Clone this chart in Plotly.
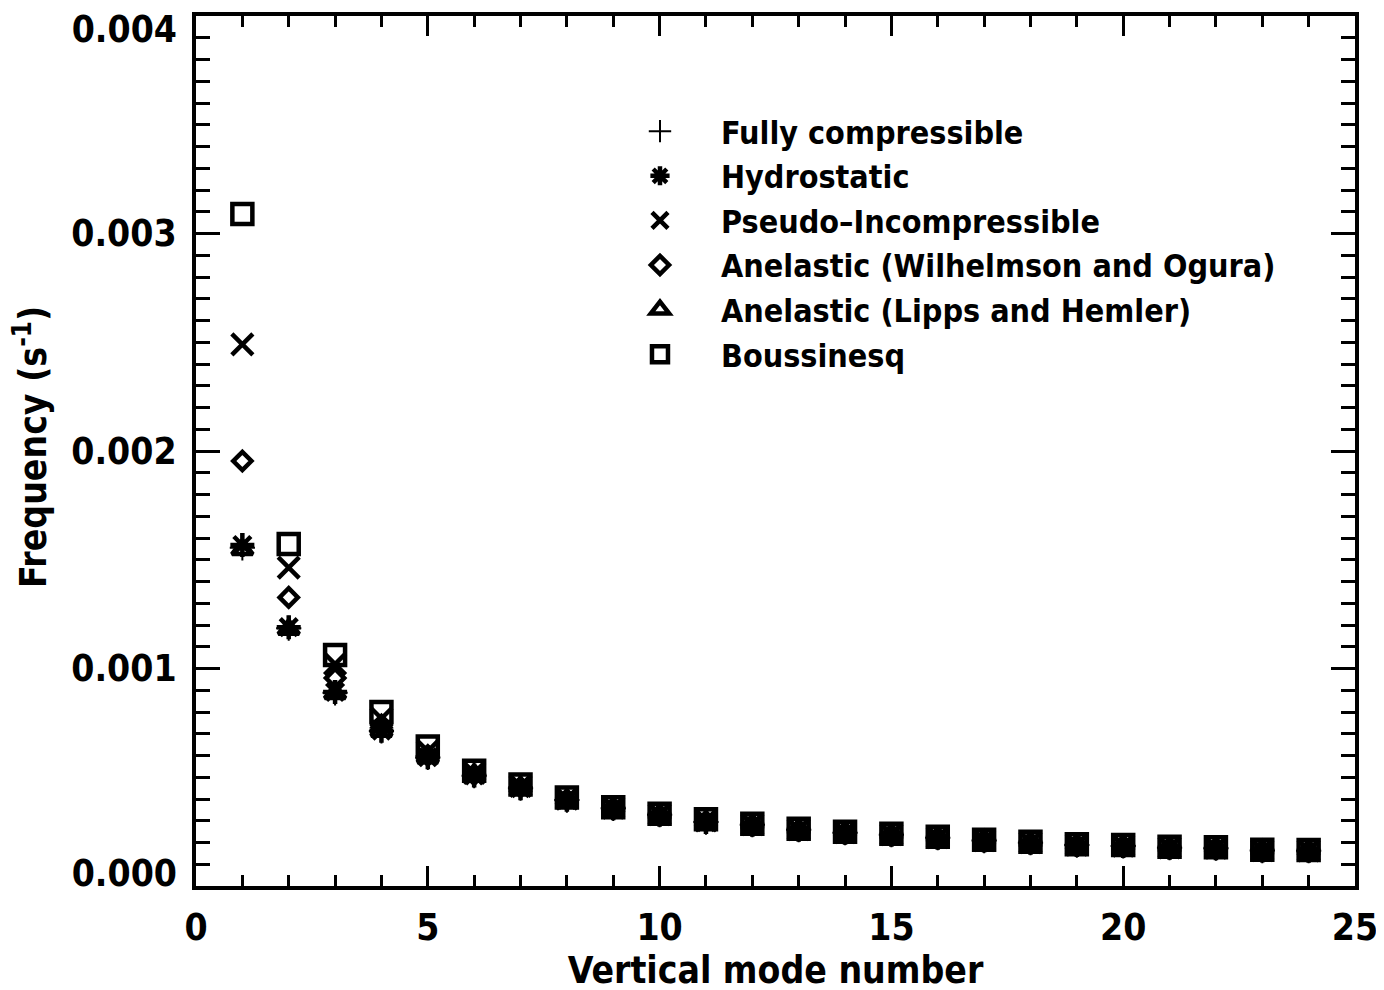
import plotly.graph_objects as go

modes = list(range(1, 25))

fully_compressible = [0.001555, 0.001185, 0.000888, 0.000713, 0.000591, 0.000507, 0.000450, 0.000395,
                      0.000357, 0.000328, 0.000294, 0.000282, 0.000259, 0.000245, 0.000236, 0.000222,
                      0.000209, 0.000199, 0.000188, 0.000184, 0.000176, 0.000174, 0.000163, 0.000162]
hydrostatic = [0.001568, 0.001190, 0.000892, 0.000714, 0.000592, 0.000508, 0.000450, 0.000396,
               0.000357, 0.000328, 0.000294, 0.000282, 0.000259, 0.000245, 0.000236, 0.000222,
               0.000209, 0.000199, 0.000188, 0.000184, 0.000176, 0.000174, 0.000163, 0.000162]
pseudo_incompressible = [0.002490, 0.001464, 0.001020, 0.000770, 0.000620, 0.000520, 0.000460, 0.000402,
                         0.000360, 0.000330, 0.000302, 0.000284, 0.000261, 0.000247, 0.000238, 0.000224,
                         0.000211, 0.000201, 0.000190, 0.000186, 0.000178, 0.000176, 0.000165, 0.000164]
anelastic_wo = [0.001954, 0.001327, 0.000956, 0.000740, 0.000600, 0.000512, 0.000455, 0.000398,
                0.000358, 0.000328, 0.000298, 0.000282, 0.000259, 0.000246, 0.000237, 0.000223,
                0.000210, 0.000200, 0.000189, 0.000185, 0.000177, 0.000175, 0.000164, 0.000163]
anelastic_lh = [0.001547, 0.001180, 0.000885, 0.000712, 0.000590, 0.000506, 0.000450, 0.000395,
                0.000357, 0.000328, 0.000294, 0.000282, 0.000259, 0.000245, 0.000236, 0.000222,
                0.000209, 0.000199, 0.000188, 0.000184, 0.000176, 0.000174, 0.000163, 0.000162]
boussinesq = [0.003090, 0.001572, 0.001062, 0.000800, 0.000641, 0.000530, 0.000467, 0.000407,
              0.000362, 0.000332, 0.000307, 0.000286, 0.000263, 0.000249, 0.000240, 0.000226,
              0.000213, 0.000203, 0.000192, 0.000188, 0.000180, 0.000178, 0.000167, 0.000166]

series_names = ["Fully compressible", "Hydrostatic", "Pseudo\u2013Incompressible",
                "Anelastic (Wilhelmson and Ogura)", "Anelastic (Lipps and Hemler)", "Boussinesq"]
series_values = [fully_compressible, hydrostatic, pseudo_incompressible,
                 anelastic_wo, anelastic_lh, boussinesq]

y_tick_vals = [0.000, 0.001, 0.002, 0.003, 0.004]
y_tick_labels = ["0.000", "0.001", "0.002", "0.003", "0.004"]

x_title = "Vertical mode number"
y_title = "Frequency (s<sup>-1</sup>)"

styles = [
    dict(symbol="cross-thin-open", size=18, line=dict(width=2, color="black")),
    dict(symbol="asterisk-open", size=20, line=dict(width=4.5, color="black")),
    dict(symbol="x-thin-open", size=21, line=dict(width=4.5, color="black")),
    dict(symbol="diamond-open", size=14, line=dict(width=4.5, color="black")),
    dict(symbol="triangle-up-open", size=18, line=dict(width=4.5, color="black")),
    dict(symbol="square-open", size=20, line=dict(width=4.5, color="black")),
]
# all axes share one range; two overlaid y axes only carry the end labels
trace_axes = ["y2", "y3", "y", "y", "y", "y"]

FONT = "DejaVu Sans Condensed, DejaVu Sans"
tick_font = dict(family=FONT, size=37, color="black", weight="bold")

fig = go.Figure()
for i, (name, vals, st, ax) in enumerate(zip(series_names, series_values, styles, trace_axes)):
    fig.add_trace(go.Scatter(x=modes, y=vals, mode="markers", name=name, yaxis=ax,
                             legendgroup="g%d" % i, legendrank=i + 1,
                             marker=dict(color="black", **st)))

Y_RANGE = [0, 0.0040001]

axis_common = dict(
    showline=True, linecolor="black", linewidth=4, mirror="ticks",
    ticks="inside", tickcolor="black", tickwidth=3,
    showgrid=False, zeroline=False, automargin=False,
    ticklabeloverflow="allow", tickfont=tick_font,
)

fig.update_layout(
    xaxis=dict(
        range=[0, 25.0001], tickmode="linear", tick0=0, dtick=5, ticklen=20,
        minor=dict(ticks="inside", dtick=1, ticklen=11, tickwidth=3, tickcolor="black", showgrid=False),
        title=dict(text=x_title, font=dict(family=FONT, size=37, color="black", weight="bold"), standoff=9),
        ticklabelstandoff=6,
        **axis_common,
    ),
)

inner_labels = [t if 0 < v < 0.004 else "" for v, t in zip(y_tick_vals, y_tick_labels)]
fig.update_layout(
    yaxis=dict(
        range=Y_RANGE, tickmode="array", tickvals=y_tick_vals, ticktext=inner_labels, ticklen=24,
        minor=dict(ticks="inside", tickmode="linear", tick0=0, dtick=0.0001, ticklen=14,
                   tickwidth=3, tickcolor="black", showgrid=False),
        ticklabelstandoff=8,
        **axis_common,
    ),
)

end_axis = dict(overlaying="y", anchor="x", side="left", range=Y_RANGE, tickmode="array",
                ticks="", showline=False, showgrid=False, zeroline=False, automargin=False,
                ticklabeloverflow="allow", tickfont=tick_font, ticklabelstandoff=18)
fig.update_layout(
    yaxis2=dict(tickvals=[y_tick_vals[-1]], ticktext=[y_tick_labels[-1]], ticklabelshift=13, **end_axis),
    yaxis3=dict(tickvals=[y_tick_vals[0]], ticktext=[y_tick_labels[0]], ticklabelshift=-13, **end_axis),
)

fig.add_annotation(
    text=y_title, xref="paper", yref="paper", x=-0.142, y=0.505,
    xanchor="center", yanchor="middle", textangle=-90, showarrow=False,
    font=dict(family=FONT, size=37, color="black", weight="bold"),
)

fig.update_layout(
    width=1384, height=990,
    margin=dict(l=188, r=37, t=8, b=112),
    paper_bgcolor="white", plot_bgcolor="white",
    showlegend=True,
    legend=dict(x=0.3477, y=0.899, xanchor="left", yanchor="top", traceorder="normal",
                font=dict(family=FONT, size=32, color="black", weight="bold"),
                bgcolor="rgba(0,0,0,0)", itemwidth=112, tracegroupgap=0),
)

fig.write_html("out.html")
